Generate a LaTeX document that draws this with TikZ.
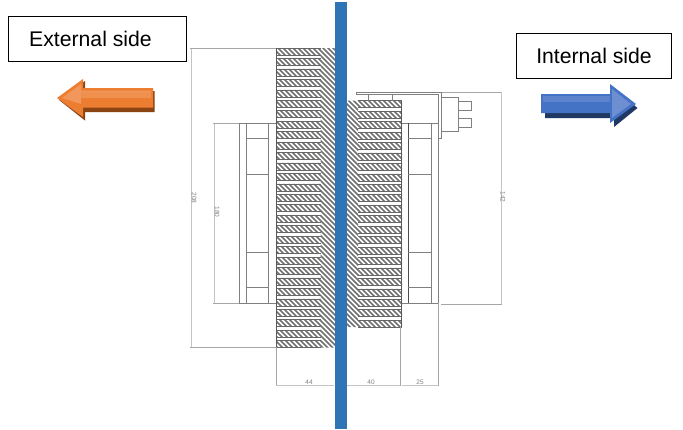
\documentclass[tikz,border=0pt]{standalone}
\usepackage{fontspec}
\setmainfont{Liberation Sans}
\definecolor{barblue}{HTML}{2E75B6}
\definecolor{dimgrey}{HTML}{C4C4C4}
\definecolor{draftgrey}{HTML}{808080}
\definecolor{hatchgrey}{HTML}{707070}
\definecolor{orangea}{HTML}{ED7D31}
\definecolor{orangeb}{HTML}{F4A26D}
\definecolor{orangec}{HTML}{8A4513}
\definecolor{bluea}{HTML}{4472C4}
\definecolor{blueb}{HTML}{7F9CD8}
\definecolor{bluec}{HTML}{1F3864}
\tikzset{
  labelbox/.style={draw=black,line width=0.8pt,fill=white,minimum height=45pt,inner sep=0pt,font=\fontsize{21.2}{24}\selectfont},
  dimline/.style={draw=dimgrey,line width=1pt},
  extline/.style={draw=draftgrey!70,line width=0.7pt},
  draftline/.style={draw=draftgrey,line width=0.9pt},
  darkline/.style={draw=black!70,line width=0.9pt},
  hatchline/.style={draw=hatchgrey,line width=1.7pt},
  dimtext/.style={text=draftgrey,font=\fontsize{6.5}{7}\selectfont,inner sep=0pt},
}
\begin{document}
\begin{tikzpicture}[x=1pt,y=-1pt]
\useasboundingbox (0,0) rectangle (683,429);
\fill[white] (0,0) rectangle (683,429);
% dimension lines left
\draw[dimline] (191,48) -- (191,347);
\draw[extline] (190,48) -- (276,48);
\draw[extline] (190,347.5) -- (276,347.5);
\draw[dimline] (214.5,123) -- (214.5,303);
\draw[extline] (213,123) -- (239,123);
\draw[extline] (213,303) -- (239,303);
\node[dimtext,rotate=-90] (d208) at (194,198) {208};
\node[dimtext,rotate=-90] (d180) at (217,212) {180};
% left fan
\draw[draftline] (239,123) rectangle (276,303);
\draw[draftline] (246.5,123) -- (246.5,303);
\draw[draftline] (268.5,123) -- (268.5,303);
\foreach \yy in {138,174,252,287} \draw[draftline] (246.5,\yy) -- (268.5,\yy);
% right fan
\draw[draftline] (402,123) -- (438,123) (402,303) -- (438,303) (431,123) -- (431,303) (438,123) -- (438,303);
\draw[darkline] (408,123) -- (408,303);
\foreach \yy in {138,174,252,287} \draw[draftline] (408,\yy) -- (431,\yy);
% left heat sink
\begin{scope}
\clip (320.5,48) rectangle (335,347.7)
  \foreach \i in {0,...,28} { (276,{48+10.45*\i}) rectangle (321,{55+10.45*\i}) };
\foreach \k in {-40,-35,...,340} \draw[hatchline] (\k,40) -- ({\k+320},360);
\end{scope}
\foreach \i in {0,...,28} {
  \draw[draw=black!60,line width=0.6pt] (276,{48+10.45*\i}) -- (320.5,{48+10.45*\i}) (276,{55+10.45*\i}) -- (320.5,{55+10.45*\i});
}
\draw[draw=black!65,line width=0.6pt] (276,48) -- (276,347.5);
% right heat sink
\begin{scope}
\clip (346,100.7) rectangle (358,327)
  \foreach \i in {0,...,21} { (356,{100.7+10.45*\i}) rectangle (402,{107.7+10.45*\i}) };
\foreach \k in {108,113,...,400} \draw[hatchline] (\k,95) -- ({\k+240},335);
\end{scope}
\foreach \i in {0,...,21} {
  \draw[draw=black!60,line width=0.6pt] (358,{100.7+10.45*\i}) -- (402,{100.7+10.45*\i}) (358,{107.7+10.45*\i}) -- (402,{107.7+10.45*\i});
}
\draw[draw=black!65,line width=0.6pt] (401.5,100.7) -- (401.5,327);
% bracket and connector
\draw[draftline,fill=white] (356,92) -- (441.5,92) -- (441.5,138) -- (438.5,138) -- (438.5,94.7) -- (356,94.7) -- cycle;
\draw[draftline] (368.5,94.7) -- (368.5,100.7) (392,94.7) -- (392,100.7);
\draw[draftline] (441.5,97) -- (458,97) -- (458,131.5) -- (441.5,131.5);
\draw[draftline] (458,101.5) -- (471,101.5) -- (471,110) -- (458,110);
\draw[draftline] (458,118.5) -- (471,118.5) -- (471,127.5) -- (458,127.5);
% right dimension
\draw[extline] (441.5,92) -- (502,92);
\draw[extline] (441,304) -- (502,304);
\draw[dimline] (501.5,92) -- (501.5,304);
\node[dimtext,rotate=-90] (d142) at (503,197) {142};
% bottom dimensions
\draw[extline] (276,347) -- (276,386) (400.5,327) -- (400.5,386) (438,303) -- (438,386);
\draw[dimline] (276,385.5) -- (334,385.5) (346,385.5) -- (400,385.5) (402,385.5) -- (438,385.5);
\node[dimtext] (d44) at (309,382) {44};
\node[dimtext] (d40) at (371,382) {40};
\node[dimtext] (d25) at (420,382) {25};
% wall
\fill[barblue] (334.5,2) rectangle (346.5,429);
% label boxes
\node[labelbox,minimum width=178pt] (ext) at (97,38.5) {\hspace*{-13pt}External side};
\node[labelbox,minimum width=155pt] (int) at (593.5,55.5) {\hspace*{1pt}Internal side};
% orange arrow
\fill[orangec] (59,100) -- (85,81) -- (85,91) -- (154.5,91) -- (154.5,112) -- (85,112) -- (85,120.5) -- cycle;
\fill[orangea] (57,98) -- (83,79) -- (83,88) -- (153,88) -- (153,107.5) -- (83,107.5) -- (83,117) -- cycle;
\fill[orangeb!70!orangea] (62,98) -- (81,84) -- (81,90.5) -- (151,90.5) -- (151,92) -- (81,92) -- (81,104) -- cycle;
\fill[orangeb!50!orangea] (81,92) -- (151,92) -- (151,98) -- (81,98) -- cycle;
% blue arrow
\fill[bluec] (545,99) -- (614,99) -- (614,88) -- (637.5,108) -- (614,127) -- (614,118) -- (545,118) -- cycle;
\fill[bluea] (541,94) -- (610,94) -- (610,84) -- (636,104) -- (610,123) -- (610,113) -- (541,113) -- cycle;
\fill[blueb!70!bluea] (612,89) -- (631,104) -- (612,118) -- cycle;
\fill[blueb!40!bluea] (543,96) -- (610,96) -- (610,102) -- (543,102) -- cycle;
\end{tikzpicture}
\end{document}
